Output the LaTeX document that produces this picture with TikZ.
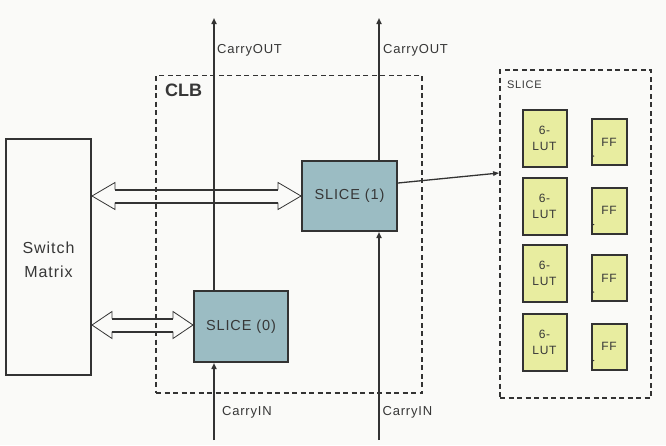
\documentclass[tikz,border=0pt]{standalone}
\usepackage{fontspec}
\setmainfont{Liberation Sans}
\newfontfamily\spaced[LetterSpace=6]{Liberation Sans}
\usetikzlibrary{arrows.meta,calc}
\definecolor{bg}{RGB}{250,250,248}
\definecolor{ink}{RGB}{51,51,51}
\definecolor{txt}{RGB}{55,55,55}
\definecolor{slicefill}{RGB}{155,188,195}
\definecolor{lutfill}{RGB}{232,237,160}

\tikzset{
  box/.style={draw=ink, line width=2pt, rectangle, inner sep=0pt, text=txt},
  slicebox/.style={box, fill=slicefill, minimum width=95pt, minimum height=70pt,
    font=\spaced\fontsize{14.5}{16}\selectfont},
  lutbox/.style={box, fill=lutfill, minimum width=44pt, minimum height=57pt,
    align=center, font=\spaced\fontsize{12}{16}\selectfont},
  ffbox/.style={box, fill=lutfill, minimum width=35pt, minimum height=46pt,
    font=\spaced\fontsize{12}{14}\selectfont},
  region/.style={draw=ink, line width=1.8pt, dash pattern=on 5pt off 3.5pt, rectangle},
  wire/.style={draw=ink, line width=2pt},
  sig/.style={wire, -{Triangle[length=6pt,width=5pt]}},
  tag/.style={text=txt, inner sep=0pt, anchor=west, font=\spaced\fontsize{13}{15}\selectfont},
  headline/.style={draw=ink, line width=0.8pt},
  shaftline/.style={draw=ink, line width=2pt},
}

% wide bus arrow with heads at both ends, between two points on one level
\newcommand\busarrow[3]{%
  \draw[headline] ($(#1)+(#3,-6.5)$) -- ($(#1)+(#3,-13.5)$) -- (#1) -- ($(#1)+(#3,13.5)$) -- ($(#1)+(#3,6.5)$);
  \draw[headline] ($(#2)+(-#3,-6.5)$) -- ($(#2)+(-#3,-13.5)$) -- (#2) -- ($(#2)+(-#3,13.5)$) -- ($(#2)+(-#3,6.5)$);
  \draw[shaftline] ($(#1)+(#3,-6.5)$) -- ($(#2)+(-#3,-6.5)$);
  \draw[shaftline] ($(#1)+(#3,6.5)$) -- ($(#2)+(-#3,6.5)$);
}

\begin{document}
\begin{tikzpicture}[x=1pt,y=-1pt]
  \fill[bg] (0,0) rectangle (666,445);
  \useasboundingbox (0,0) rectangle (666,445);

  % configurable logic block outline
  \node[region, minimum width=266pt, minimum height=317.5pt] (clb) at (289,234.25) {};
  \node[text=txt, inner sep=0pt, anchor=west, font=\bfseries\fontsize{18}{20}\selectfont] (clbname) at (165,90) {CLB};

  % switch matrix
  \node[box, fill=bg, minimum width=85pt, minimum height=236pt] (sw) at (48.5,257) {};
  \node[text=txt, inner sep=0pt, align=center, font=\spaced\fontsize{16}{24}\selectfont]
        (swname) at (48.5,260) {Switch\\Matrix};

  % the two slices
  \node[slicebox] (s1) at (349.5,196) {SLICE (1)};
  \node[slicebox, minimum width=94pt, minimum height=71pt] (s0) at (241,326.5) {SLICE (0)};

  % carry chains
  \coordinate (in0) at (214,440);
  \coordinate (out0) at (214,18);
  \coordinate (in1) at (379,440);
  \coordinate (out1) at (379,18);
  \draw[sig] (in0) -- (in0 |- s0.south);
  \draw[sig] (out0 |- s0.north) -- (out0);
  \draw[sig] (in1) -- (in1 |- s1.south);
  \draw[sig] (out1 |- s1.north) -- (out1);

  \node[tag] (co0) at (217,50) {CarryOUT};
  \node[tag] (co1) at (383,50) {CarryOUT};
  \node[tag] (ci0) at (222,412.5) {CarryIN};
  \node[tag] (ci1) at (382.5,412.5) {CarryIN};

  % routing buses between the switch matrix and the slices
  \coordinate (a1) at (sw.east |- s1.west);
  \coordinate (a0) at ($(sw.east |- s0.west)+(0,-1.5)$);
  \coordinate (b0) at ($(s0.west)+(0,-1.5)$);
  \busarrow{a1}{s1.west}{23}
  \busarrow{a0}{b0}{20}

  % slice detail
  \node[region, minimum width=151pt, minimum height=328pt] (det) at (575.5,234) {};
  \node[text=txt, inner sep=0pt, anchor=west, font=\spaced\fontsize{11}{13}\selectfont] (detname) at (507,85) {SLICE};

  \foreach \i/\ly/\fy in {1/138/142, 2/206/210.5, 3/273.5/278, 4/342.5/346.5} {
    \node[lutbox] (lut\i) at (544.5,\ly) {6-\\LUT};
    \node[ffbox] (ff\i) at (609,\fy) {FF};
    \fill[ink] ($(ff\i.south west)+(1,-11.5)$) -- ($(ff\i.south west)+(4,-10)$) -- ($(ff\i.south west)+(1,-8.5)$) -- cycle;
  }

  \coordinate (detin) at (det.west |- 0,173);
  \draw[wire, line width=1.3pt, -{Triangle[length=6pt,width=4.5pt]}] ($(s1.east)+(0,-13)$) -- (detin);
\end{tikzpicture}
\end{document}
